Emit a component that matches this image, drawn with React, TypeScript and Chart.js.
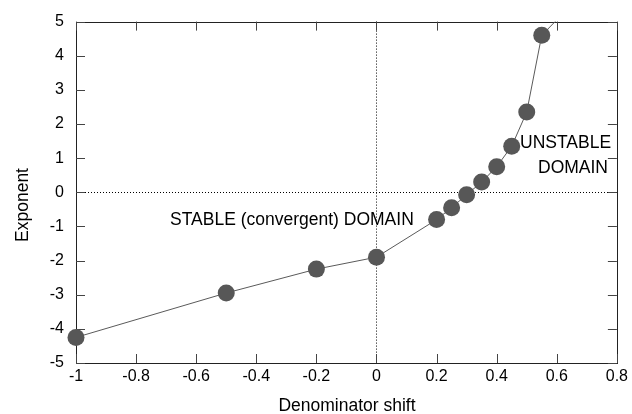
import React, { useEffect, useRef } from "react";
import { Chart, registerables } from "chart.js";

Chart.register(...registerables);

const shiftValues = [-1, -0.5, -0.2, 0, 0.2, 0.25, 0.3, 0.35, 0.4, 0.45, 0.5, 0.55, 0.6];
const exponentValues = [-4.25, -2.95, -2.25, -1.9, -0.8, -0.45, -0.07, 0.3, 0.75, 1.35, 2.35, 4.6, 5.05];
const markerShown = [true, true, true, true, true, true, true, true, true, true, true, true, false];
const xTickValues = [-1, -0.8, -0.6, -0.4, -0.2, 0, 0.2, 0.4, 0.6, 0.8];
const yTickValues = [-5, -4, -3, -2, -1, 0, 1, 2, 3, 4, 5];
const xTitle = "Denominator shift";
const yTitle = "Exponent";
const stableLabel = "STABLE (convergent) DOMAIN";
const unstableLabel = ["UNSTABLE", "DOMAIN"];

const FONT = "'Liberation Sans', Arial, Helvetica, sans-serif";

const framePlugin = {
  id: "gnuframe",
  beforeDatasetsDraw(chart: any) {
    const { ctx, chartArea } = chart;
    const xs = chart.scales.x;
    const ys = chart.scales.y;
    const { left, right, top, bottom } = chartArea;
    ctx.save();
    // zero axes, dotted
    ctx.strokeStyle = "#000";
    ctx.lineWidth = 1;
    ctx.setLineDash([1, 2]);
    const x0 = Math.round(xs.getPixelForValue(0)) + 0.5;
    const y0 = Math.round(ys.getPixelForValue(0)) + 0.5;
    ctx.beginPath();
    ctx.moveTo(x0, top);
    ctx.lineTo(x0, bottom);
    ctx.moveTo(left, y0);
    ctx.lineTo(right, y0);
    ctx.stroke();
    ctx.setLineDash([]);
    // border
    ctx.strokeStyle = "#222";
    ctx.strokeRect(Math.round(left) + 0.5, Math.round(top) + 0.5, Math.round(right - left), Math.round(bottom - top));
    // ticks inward, mirrored
    const tl = 9;
    ctx.strokeStyle = "#444";
    ctx.beginPath();
    xTickValues.forEach((v) => {
      const px = Math.round(xs.getPixelForValue(v)) + 0.5;
      ctx.moveTo(px, bottom);
      ctx.lineTo(px, bottom - tl);
      ctx.moveTo(px, top);
      ctx.lineTo(px, top + tl);
    });
    yTickValues.forEach((v) => {
      const py = Math.round(ys.getPixelForValue(v)) + 0.5;
      ctx.moveTo(left, py);
      ctx.lineTo(left + tl, py);
      ctx.moveTo(right, py);
      ctx.lineTo(right - tl, py);
    });
    ctx.stroke();
    ctx.restore();
  },
  afterDraw(chart: any) {
    const { ctx } = chart;
    ctx.save();
    ctx.fillStyle = "#000";
    ctx.font = `17.5px ${FONT}`;
    ctx.textBaseline = "alphabetic";
    ctx.textAlign = "center";
    ctx.fillText(xTitle, 347, 411);
    ctx.save();
    ctx.translate(28, 205);
    ctx.rotate(-Math.PI / 2);
    ctx.fillText(yTitle, 0, 0);
    ctx.restore();
    ctx.textAlign = "left";
    ctx.fillText(stableLabel, 170, 225);
    ctx.fillText(unstableLabel[0], 520, 148);
    ctx.fillText(unstableLabel[1], 538, 173);
    ctx.restore();
  },
};

function fmt(v: number) {
  return String(Number(Number(v).toFixed(2)));
}

export default function App() {
  const ref = useRef<HTMLCanvasElement | null>(null);
  useEffect(() => {
    if (!ref.current) return;
    const chart = new Chart(ref.current, {
      type: "scatter",
      data: {
        datasets: [
          {
            data: shiftValues.map((x, i) => ({ x, y: exponentValues[i] })),
            showLine: true,
            borderColor: "#5a5a5a",
            borderWidth: 1,
            backgroundColor: "#575757",
            pointBackgroundColor: "#575757",
            pointBorderColor: "#575757",
            pointBorderWidth: 0,
            pointRadius: markerShown.map((s) => (s ? 8.5 : 0)),
            pointHoverRadius: markerShown.map((s) => (s ? 8.5 : 0)),
            clip: { left: 12, right: 12, top: 0, bottom: 12 } as any,
          },
        ],
      },
      options: {
        animation: false,
        responsive: true,
        maintainAspectRatio: false,
        layout: { padding: { top: 21, right: 15, left: 0, bottom: 0 } },
        plugins: { legend: { display: false }, tooltip: { enabled: false } },
        scales: {
          x: {
            type: "linear",
            min: -1,
            max: 0.8,
            afterFit: (s: any) => {
              s.height = 51;
            },
            afterBuildTicks: (s: any) => {
              s.ticks = xTickValues.map((value) => ({ value }));
            },
            grid: { display: false, drawTicks: false },
            border: { display: false },
            ticks: {
              padding: 4,
              color: "#000",
              font: { family: FONT, size: 16 },
              callback: (v: any) => fmt(v),
              maxRotation: 0,
              autoSkip: false,
            },
          },
          y: {
            type: "linear",
            min: -5,
            max: 5,
            afterFit: (s: any) => {
              s.width = 76;
            },
            afterBuildTicks: (s: any) => {
              s.ticks = yTickValues.map((value) => ({ value }));
            },
            grid: { display: false, drawTicks: false },
            border: { display: false },
            ticks: {
              padding: 12,
              color: "#000",
              font: { family: FONT, size: 16 },
              callback: (v: any) => fmt(v),
              autoSkip: false,
            },
          },
        },
      },
      plugins: [framePlugin],
    });
    return () => chart.destroy();
  }, []);
  return (
    <div style={{ position: "fixed", left: 0, top: 0, width: 632, height: 414, background: "#fff" }}>
      <canvas ref={ref} />
    </div>
  );
}
